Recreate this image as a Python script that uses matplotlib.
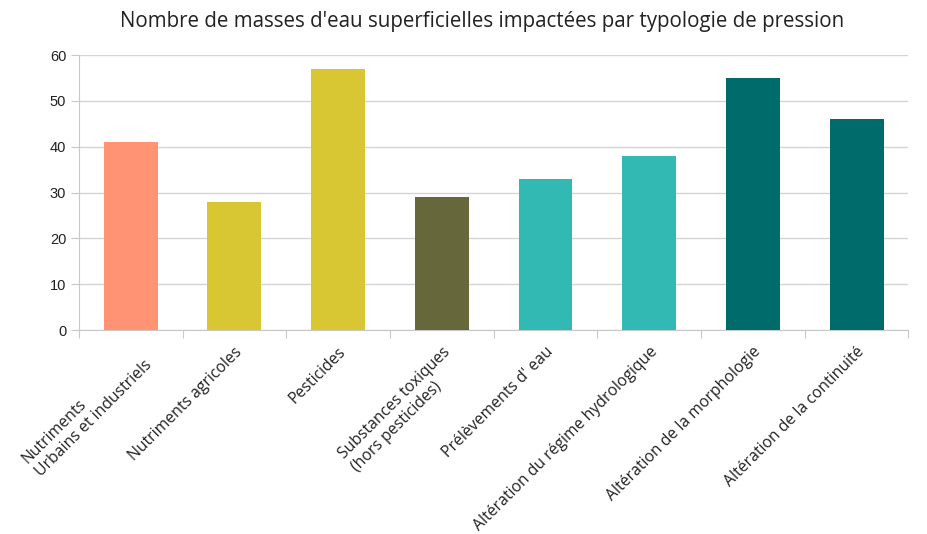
import numpy as np
import matplotlib
matplotlib.use("Agg")
import matplotlib.pyplot as plt

# data
categories = ["Nutriments\nUrbains et industriels", "Nutriments agricoles", "Pesticides",
              "Substances toxiques\n(hors pesticides)", "Prélèvements d' eau",
              "Altération du régime hydrologique", "Altération de la morphologie",
              "Altération de la continuité"]
values = [41, 28, 57, 29, 33, 38, 55, 46]
colors = ["#FF9373", "#D9C633", "#D9C633", "#66673A", "#33B9B4", "#33B9B4", "#006B6B", "#006B6B"]
yticks = [0, 10, 20, 30, 40, 50, 60]

fig = plt.figure(figsize=(9.27, 5.34), dpi=100)
ax = fig.add_axes([0.085, 0.382, 0.895, 0.515])

x = np.arange(len(values))
ax.bar(x, values, width=0.52, color=colors, zorder=3)

ax.set_xlim(-0.5, len(values) - 0.5)
ax.set_ylim(0, 60)
ax.set_yticks(yticks)
ax.set_yticklabels([str(t) for t in yticks], fontsize=10.5, family="Liberation Sans", color="#222222")
ax.yaxis.grid(True, color="#d4d4d4", lw=1, zorder=0)
ax.tick_params(axis="y", length=6, color="#c8c8c8", pad=3)

# category boundaries as ticks, labels at centers
ax.set_xticks(np.arange(len(values) + 1) - 0.5)
ax.set_xticklabels([])
ax.tick_params(axis="x", which="major", length=6, color="#c8c8c8")
ax.set_xticks(x, minor=True)
ax.set_xticklabels(categories, minor=True, rotation=45, ha="right", va="top",
                   rotation_mode="anchor", multialignment="left",
                   fontsize=11.3, family="Open Sans", color="#222222")
ax.tick_params(axis="x", which="minor", length=0, pad=10)

for s in ["top", "right"]:
    ax.spines[s].set_visible(False)
ax.spines["left"].set_color("#c8c8c8")
ax.spines["bottom"].set_color("#c8c8c8")

fig.text(0.52, 0.96, "Nombre de masses d'eau superficielles impactées par typologie de pression",
         ha="center", va="center", fontsize=14.8, family="Open Sans", color="#222222")

fig.savefig("out.png", dpi=100, facecolor="white")
